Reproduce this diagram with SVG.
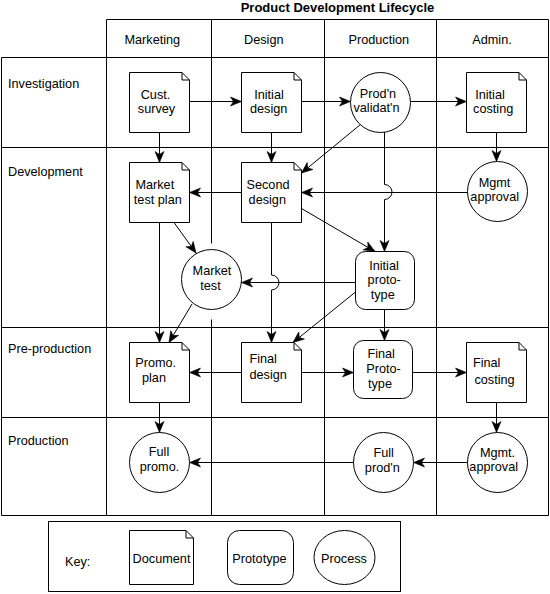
<svg xmlns="http://www.w3.org/2000/svg" width="550" height="594" viewBox="0 0 550 594">
<style>
text{font-family:"Liberation Sans",Arial,sans-serif;font-size:12.7px;fill:#000}
.t{text-anchor:middle}
.title{font-weight:bold;font-size:13px;text-anchor:middle}
.g{stroke:#000;stroke-width:1;fill:none}
.n{stroke:#000;stroke-width:1;fill:#fff}
.c{stroke:#000;stroke-width:1;fill:none;marker-end:url(#ah)}
</style>
<defs>
<marker id="ah" viewBox="-12 -6 13 12" refX="0" refY="0" markerWidth="13" markerHeight="12" markerUnits="userSpaceOnUse" orient="auto">
<path d="M0,0 L-11,-4.5 L-8,0 L-11,4.5 Z" fill="#000" stroke="#000" stroke-width="0.6" stroke-linejoin="miter"/>
</marker>
</defs>
<rect width="550" height="594" fill="#fff"/>
<text class="title" x="337.5" y="11.5">Product Development Lifecycle</text>
<g id="grid" class="g">
<path d="M106.5,19.5H548.5M1.5,57.5H548.5M1.5,147.5H548.5M1.5,327.5H548.5M1.5,417.5H548.5M1.5,515.5H548.5"/>
<path d="M1.5,57.5V515.5M106.5,19.5V515.5M211.5,19.5V243.5M211.5,319.5V515.5M324.5,19.5V515.5M436.5,19.5V515.5M548.5,19.5V515.5"/>
</g>
<g id="headers">
<text class="t" x="152.3" y="44.3">Marketing</text>
<text class="t" x="263.8" y="44.3">Design</text>
<text class="t" x="378.8" y="44.3">Production</text>
<text class="t" x="492" y="44.3">Admin.</text>
<text x="8" y="87.7">Investigation</text>
<text x="8" y="175.5">Development</text>
<text x="8" y="352.7">Pre-production</text>
<text x="8" y="445">Production</text>
</g>
<g id="connectors">
<path class="c" d="M189.5,101.5H241.5"/>
<path class="c" d="M301.5,101.5H350.5"/>
<path class="c" d="M410.5,101.5H466.5"/>
<path class="c" d="M159.5,132.5V162.5"/>
<path class="c" d="M271.5,132.5V162.5"/>
<path class="c" d="M496.5,132.5V161.5"/>
<path class="c" d="M360.5,124.5L301.5,173"/>
<path class="c" d="M384.5,132V184.5A7.5,7.5 0 0 1 384.5,199.5V251.5"/>
<path class="c" d="M467.5,192.5H301.5"/>
<path class="c" d="M241.5,192.5H189.5"/>
<path class="c" d="M174,222.5L196,253"/>
<path class="c" d="M301.5,208.5L375,251.5"/>
<path class="c" d="M355.5,282.5H241.5"/>
<path class="c" d="M271.5,222.5V275A7.5,7.5 0 0 1 271.5,290V342.5"/>
<path class="c" d="M159.5,222.5V342.5"/>
<path class="c" d="M192,304L169,342.5"/>
<path class="c" d="M355.5,292L293,342.5"/>
<path class="c" d="M384.5,309.5V340.5"/>
<path class="c" d="M241.5,372.5H189.5"/>
<path class="c" d="M301.5,372.5H353.5"/>
<path class="c" d="M412.5,372.5H466.5"/>
<path class="c" d="M159.5,402.5V432.5"/>
<path class="c" d="M496.5,402.5V432.5"/>
<path class="c" d="M467.5,462.5H413.5"/>
<path class="c" d="M353.5,462.5H189.5"/>
</g>
<g id="cust">
<path class="n" d="M129.5,72.5H182L189.5,80V132.5H129.5Z"/><path class="g" d="M182,72.5V80H189.5"/>
<text class="t" x="155.5" y="98.5">Cust.</text><text class="t" x="156.5" y="112.5">survey</text>
</g>
<g id="initDesign">
<path class="n" d="M241.5,72.5H294L301.5,80V132.5H241.5Z"/><path class="g" d="M294,72.5V80H301.5"/>
<text class="t" x="269" y="98.7">Initial</text><text class="t" x="268.7" y="113.3">design</text>
</g>
<g id="prodVal">
<circle class="n" cx="380.5" cy="102.5" r="30"/>
<text class="t" x="378" y="97.5">Prod'n</text><text class="t" x="376.5" y="111.7">validat'n</text>
</g>
<g id="initCost">
<path class="n" d="M466.5,72.5H519L526.5,80V132.5H466.5Z"/><path class="g" d="M519,72.5V80H526.5"/>
<text class="t" x="490" y="98.7">Initial</text><text class="t" x="493.2" y="113.3">costing</text>
</g>
<g id="mtPlan">
<path class="n" d="M129.5,162.5H182L189.5,170V222.5H129.5Z"/><path class="g" d="M182,162.5V170H189.5"/>
<text class="t" x="154.8" y="189.3">Market</text><text class="t" x="157.8" y="204">test plan</text>
</g>
<g id="secondDesign">
<path class="n" d="M241.5,162.5H294L301.5,170V222.5H241.5Z"/><path class="g" d="M294,162.5V170H301.5"/>
<text class="t" x="268" y="189.3">Second</text><text class="t" x="267.3" y="204">design</text>
</g>
<g id="mgmt1">
<circle class="n" cx="497.5" cy="191.5" r="30"/>
<text class="t" x="494.5" y="186.7">Mgmt</text><text class="t" x="494.7" y="200.5">approval</text>
</g>
<g id="marketTest">
<circle class="n" cx="211.5" cy="279.5" r="30"/>
<text class="t" x="212" y="275">Market</text><text class="t" x="210.5" y="290">test</text>
</g>
<g id="initProto">
<rect class="n" x="355.5" y="251.5" width="59" height="58" rx="10"/>
<text class="t" x="384" y="269.5">Initial</text><text class="t" x="384.2" y="284">proto-</text><text class="t" x="382.7" y="298.5">type</text>
</g>
<g id="promoPlan">
<path class="n" d="M129.5,342.5H182L189.5,350V402.5H129.5Z"/><path class="g" d="M182,342.5V350H189.5"/>
<text class="t" x="155.7" y="367.3">Promo.</text><text class="t" x="154" y="382.3">plan</text>
</g>
<g id="finalDesign">
<path class="n" d="M241.5,342.5H294L301.5,350V402.5H241.5Z"/><path class="g" d="M294,342.5V350H301.5"/>
<text class="t" x="263.2" y="363.3">Final</text><text class="t" x="268.2" y="379.3">design</text>
</g>
<g id="finalProto">
<rect class="n" x="353.5" y="340.5" width="59" height="58" rx="10"/>
<text class="t" x="381.2" y="358.3">Final</text><text class="t" x="383.5" y="373.3">Proto-</text><text class="t" x="380" y="388.3">type</text>
</g>
<g id="finalCost">
<path class="n" d="M466.5,342.5H519L526.5,350V402.5H466.5Z"/><path class="g" d="M519,342.5V350H526.5"/>
<text class="t" x="486.7" y="367.3">Final</text><text class="t" x="494.5" y="383.5">costing</text>
</g>
<g id="fullPromo">
<circle class="n" cx="159.5" cy="462.5" r="30"/>
<text class="t" x="159" y="455.7">Full</text><text class="t" x="159.5" y="470.7">promo.</text>
</g>
<g id="fullProd">
<circle class="n" cx="383.5" cy="462.5" r="30"/>
<text class="t" x="383.7" y="456.7">Full</text><text class="t" x="382.3" y="471.7">prod'n</text>
</g>
<g id="mgmt2">
<circle class="n" cx="497.5" cy="462.5" r="30"/>
<text class="t" x="497.5" y="456.7">Mgmt.</text><text class="t" x="493.7" y="470.7">approval</text>
</g>
<g id="key">
<rect class="g" x="48.5" y="521.5" width="352" height="70"/>
<text x="65" y="566">Key:</text>
<path class="n" d="M129.5,530.5H186L193.5,538V584.5H129.5Z"/><path class="g" d="M186,530.5V538H193.5"/>
<text class="t" x="161.5" y="563">Document</text>
<rect class="n" x="227.5" y="530.5" width="66" height="54" rx="12"/>
<text class="t" x="259.5" y="563">Prototype</text>
<ellipse class="n" cx="344.5" cy="557.5" rx="30.5" ry="27"/>
<text class="t" x="344" y="563">Process</text>
</g>
</svg>
